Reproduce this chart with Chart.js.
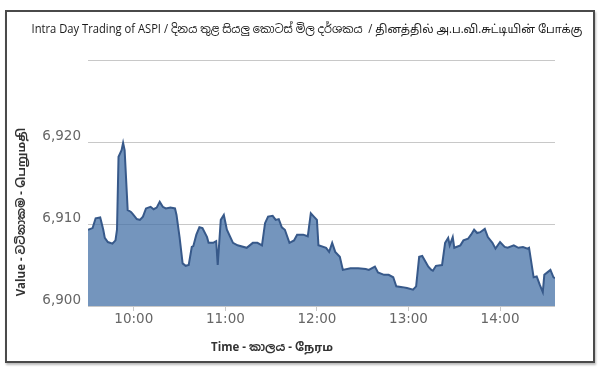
<!DOCTYPE html>
<html>
<head>
<meta charset="utf-8">
<script src="https://cdn.jsdelivr.net/npm/chart.js@4"></script>
<style>
  body { margin: 0; background: #fff; }
  #frame {
    position: absolute; left: 5px; top: 10px; width: 586px; height: 349px;
    border: 2px solid #4a4a4a; box-shadow: 1px 2px 2px #bbb;
  }
  #trendChart { position: absolute; left: 0; top: 0; }
</style>
</head>
<body>
<div id="frame"></div>
<canvas id="trendChart" width="600" height="375"></canvas>
<script>
// ASPI intraday (time of day, index value)
const times = [
  '09:30', '09:33', '09:35', '09:38', '09:40', '09:41', '09:43', '09:46', '09:48', '09:49',
  '09:50', '09:52', '09:53', '09:54', '09:56', '09:58', '09:59', '10:02', '10:04', '10:06',
  '10:08', '10:11', '10:13', '10:15', '10:17', '10:19', '10:21', '10:24', '10:27', '10:28',
  '10:30', '10:32', '10:34', '10:36', '10:38', '10:39', '10:41', '10:43', '10:45', '10:48',
  '10:49', '10:52', '10:54', '10:55', '10:57', '10:59', '11:01', '11:05', '11:08', '11:14',
  '11:18', '11:21', '11:24', '11:26', '11:28', '11:31', '11:33', '11:35', '11:37', '11:39',
  '11:42', '11:45', '11:47', '11:51', '11:54', '11:56', '11:58', '12:00', '12:01', '12:06',
  '12:08', '12:10', '12:12', '12:15', '12:17', '12:22', '12:27', '12:32', '12:34', '12:38',
  '12:40', '12:44', '12:47', '12:50', '12:52', '12:56', '12:59', '13:03', '13:05', '13:07',
  '13:09', '13:13', '13:15', '13:16', '13:18', '13:22', '13:24', '13:26', '13:27', '13:29',
  '13:30', '13:34', '13:36', '13:39', '13:41', '13:43', '13:45', '13:47', '13:50', '13:52',
  '13:55', '13:57', '14:00', '14:03', '14:05', '14:09', '14:12', '14:15', '14:18', '14:19',
  '14:22', '14:24', '14:26', '14:28', '14:29', '14:31', '14:33', '14:35', '14:36'
];
const aspi = [
  6909.3, 6909.5, 6910.7, 6910.8, 6909.3, 6908.3, 6907.8, 6907.6, 6908.0, 6909.3,
  6918.2, 6919.0, 6919.9, 6919.0, 6911.7, 6911.5, 6911.3, 6910.6, 6910.5, 6910.9,
  6911.9, 6912.1, 6911.8, 6912.0, 6912.7, 6912.1, 6911.9, 6912.0, 6911.9, 6911.1,
  6908.4, 6905.2, 6904.9, 6905.0, 6907.2, 6907.3, 6908.7, 6909.6, 6909.5, 6908.4,
  6907.7, 6907.7, 6907.9, 6905.0, 6910.5, 6911.1, 6909.3, 6907.7, 6907.4, 6907.1,
  6907.7, 6907.7, 6907.4, 6910.1, 6910.9, 6911.0, 6910.5, 6910.6, 6909.6, 6909.3,
  6907.7, 6908.0, 6908.7, 6908.7, 6908.5, 6911.3, 6910.9, 6910.5, 6907.4, 6907.1,
  6906.6, 6907.7, 6906.6, 6906.0, 6904.4, 6904.6, 6904.6, 6904.5, 6904.4, 6904.8,
  6904.1, 6903.8, 6903.8, 6903.5, 6902.4, 6902.3, 6902.2, 6902.0, 6902.4, 6906.0,
  6906.1, 6904.8, 6904.4, 6904.3, 6904.9, 6905.0, 6907.7, 6908.3, 6907.4, 6908.4,
  6907.1, 6907.4, 6908.0, 6908.2, 6908.7, 6909.3, 6908.9, 6909.0, 6909.4, 6908.4,
  6907.7, 6907.0, 6907.8, 6907.2, 6907.1, 6907.4, 6907.1, 6907.2, 6907.0, 6907.1,
  6903.5, 6903.6, 6902.6, 6901.7, 6903.8, 6904.1, 6904.4, 6903.5, 6903.4
];
const xTickLabels = ['10:00', '11:00', '12:00', '13:00', '14:00'];
const yTickValues = [6900, 6910, 6920, 6930];

const titleText = 'Intra Day Trading of ASPI / දිනය තුළ සියලු කොටස් මිල දර්ශකය  / தினத்தில் அ.ப.வி.சுட்டியின் போக்கு';
const xTitle = 'Time - කාලය - நேரம';
const yTitle = 'Value - වටිනාකම - பெறுமதி';

const textFamily = '"Open Sans", "Noto Sans", "Noto Sans Sinhala", "Noto Sans Tamil", sans-serif';

function toMinutes(t) {
  const [h, m] = t.split(':').map(Number);
  return h * 60 + m;
}
function fromMinutes(v) {
  const h = Math.floor(v / 60), m = v % 60;
  return h + ':' + String(m).padStart(2, '0');
}

// the titles sit off-centre in the original, so they are drawn by hand
const chartTexts = {
  id: 'chartTexts',
  afterDraw(chart) {
    const { ctx, chartArea } = chart;
    ctx.save();
    ctx.textAlign = 'center';
    ctx.textBaseline = 'middle';
    ctx.fillStyle = '#1a1a1a';
    ctx.font = '11.7px ' + textFamily;
    ctx.fillText(titleText, 307, 30, 551);
    ctx.fillStyle = '#333';
    ctx.font = 'bold 11.5px ' + textFamily;
    ctx.fillText(xTitle, chartArea.left + 184, chartArea.bottom + 42);
    ctx.translate(22, chartArea.top + 152);
    ctx.rotate(-Math.PI / 2);
    ctx.fillText(yTitle, 0, 0);
    ctx.restore();
  }
};

const ctxTrend = document.getElementById('trendChart').getContext('2d');

new Chart(ctxTrend, {
  type: 'line',
  data: {
    datasets: [{
      label: 'ASPI',
      data: times.map((t, i) => ({ x: toMinutes(t), y: aspi[i] })),
      borderColor: '#37598a',
      backgroundColor: 'rgba(69, 114, 167, 0.75)',
      borderWidth: 2,
      fill: 'start',
      pointRadius: 0,
      tension: 0
    }]
  },
  options: {
    responsive: false,
    animation: false,
    layout: { padding: { left: 14, right: 45, top: 60, bottom: 0 } },
    plugins: {
      legend: { display: false },
      tooltip: { enabled: false },
      title: { display: false }
    },
    scales: {
      x: {
        type: 'linear',
        min: toMinutes('09:30'),
        max: toMinutes('14:36'),
        afterBuildTicks: (scale) => { scale.ticks = xTickLabels.map(l => ({ value: toMinutes(l) })); },
        afterFit: (scale) => { scale.height = 69; },
        border: { display: false },
        grid: { drawOnChartArea: false, drawTicks: true, tickLength: 5, color: '#c8c8c8' },
        ticks: {
          padding: 0,
          color: '#666',
          font: { family: '"DejaVu Sans", sans-serif', size: 13.5 },
          callback: (value) => fromMinutes(value)
        }
      },
      y: {
        min: 6900,
        max: 6930,
        afterBuildTicks: (scale) => { scale.ticks = yTickValues.map(v => ({ value: v })); },
        afterFit: (scale) => { scale.width = 74; },
        border: { display: false },
        grid: { drawTicks: false, color: '#c8c8c8' },
        ticks: {
          padding: 7,
          labelOffset: -6,
          color: '#666',
          font: { family: '"DejaVu Sans", sans-serif', size: 13.5 },
          callback: (value) => value === 6930 ? '' : value.toLocaleString('en-US')
        }
      }
    }
  },
  plugins: [chartTexts]
});
</script>
</body>
</html>
